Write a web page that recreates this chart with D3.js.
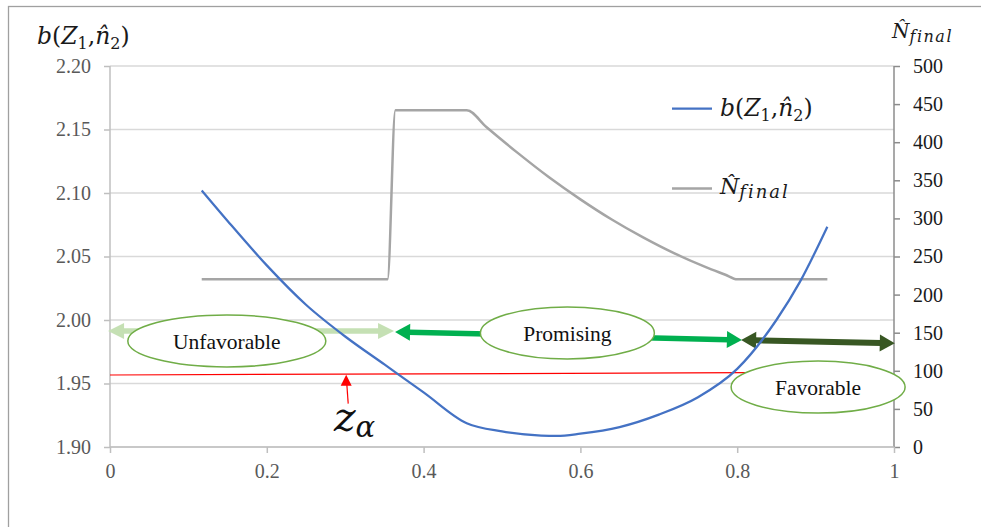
<!DOCTYPE html>
<html>
<head>
<meta charset="utf-8">
<script src="https://cdn.jsdelivr.net/npm/d3@7"></script>
<style>
  html, body { margin: 0; padding: 0; background: #fff; }
  svg { display: block; }
</style>
</head>
<body>
<svg id="chart" width="981" height="527"></svg>
<script>
// Interim z-statistic Z1 on the x axis
const zGrid = [0.117, 0.15, 0.20, 0.25, 0.30, 0.35, 0.40, 0.455, 0.50, 0.55, 0.57, 0.60, 0.65, 0.70, 0.75, 0.80, 0.85, 0.88, 0.915];
// Boundary b(Z1, n2) on the left axis
const bValues = [2.102, 2.078, 2.043, 2.012, 1.987, 1.965, 1.943, 1.9187, 1.9123, 1.9090, 1.9087, 1.9105, 1.9157, 1.9255, 1.9392, 1.9615, 2.000, 2.030, 2.0735];

// Re-estimated final sample size on the right axis
const nGrid = [0.117, 0.354, 0.364, 0.455, 0.48, 0.52, 0.56, 0.60, 0.64, 0.68, 0.72, 0.76, 0.785, 0.80, 0.915];
const nFinal = [220, 220, 442, 442, 420, 386, 354, 325, 298.5, 275, 254, 236, 226, 220, 220];

// Axis ticks
const leftTicks = [1.90, 1.95, 2.00, 2.05, 2.10, 2.15, 2.20];
const rightTicks = [0, 50, 100, 150, 200, 250, 300, 350, 400, 450, 500];
const xTicks = [0, 0.2, 0.4, 0.6, 0.8, 1];
const xTickLabels = ["0", "0.2", "0.4", "0.6", "0.8", "1"];

// Critical value line z_alpha (start and end)
const zAlphaX = [0, 0.8115];
const zAlphaY = [1.9567, 1.9585];

// Zone arrows: [x1, y1, x2, y2]
const zoneNames = ["Unfavorable", "Promising", "Favorable"];
const zoneArrows = [
  [-0.0025, 1.9913, 0.3623, 1.9913],
  [0.3636, 1.9906, 0.8060, 1.9843],
  [0.8050, 1.9843, 1.0010, 1.9817]
];
// Zone label centres [x, y]
const zoneLabels = [[0.149, 1.9835], [0.5834, 1.9898], [0.9032, 1.9472]];

const svg = d3.select("#chart");
const W = 981, H = 527;
const m = { left: 110, right: 894, top: 66, bottom: 447 };

const x = d3.scaleLinear().domain([0, 1]).range([m.left, m.right]);
const yL = d3.scaleLinear().domain([1.90, 2.20]).range([m.bottom, m.top]);
const yR = d3.scaleLinear().domain([0, 500]).range([m.bottom, m.top]);

const serif = "'Liberation Serif', 'Times New Roman', serif";
const mathFont = "'DejaVu Serif', serif";

// outer frame
svg.append("rect")
  .attr("x", 8.5).attr("y", 6.5)
  .attr("width", W + 20).attr("height", H + 20)
  .attr("fill", "none").attr("stroke", "#a0a0a0").attr("stroke-width", 1.3);

// horizontal gridlines
svg.append("g").selectAll("line").data(leftTicks).join("line")
  .attr("x1", m.left).attr("x2", m.right)
  .attr("y1", d => yL(d)).attr("y2", d => yL(d))
  .attr("stroke", "#d9d9d9").attr("stroke-width", 1.5);

// axes
const gLeft = svg.append("g").attr("transform", `translate(${m.left},0)`)
  .call(d3.axisLeft(yL).tickValues(leftTicks).tickFormat(d3.format(".2f")).tickSize(6).tickPadding(13));
const gRight = svg.append("g").attr("transform", `translate(${m.right},0)`)
  .call(d3.axisRight(yR).tickValues(rightTicks).tickSize(6).tickPadding(13));
const gBottom = svg.append("g").attr("transform", `translate(0,${m.bottom})`)
  .call(d3.axisBottom(x).tickValues(xTicks).tickFormat((d, i) => xTickLabels[i]).tickSize(6).tickPadding(11));

[gLeft, gRight, gBottom].forEach(g => g.attr("font-family", serif).attr("font-size", 20));
[gLeft, gBottom].forEach(g => {
  g.selectAll("path.domain").attr("stroke", "#bfbfbf").attr("stroke-width", 1.5);
  g.selectAll(".tick line").attr("stroke", "#bfbfbf").attr("stroke-width", 1.5);
  g.selectAll("text").attr("fill", "#595959");
});
gRight.selectAll("path.domain").attr("stroke", "#8c8c8c").attr("stroke-width", 1.5);
gRight.selectAll(".tick line").attr("stroke", "#8c8c8c").attr("stroke-width", 1.5);
gRight.selectAll("text").attr("fill", "#1a1a1a");
// plain axis lines without outer tick stubs
gLeft.select("path.domain").attr("d", `M0,${m.top}V${m.bottom}`);
gRight.select("path.domain").attr("d", `M0,${m.top}V${m.bottom}`);
gBottom.select("path.domain").attr("d", `M${m.left},0H${m.right}`);

// z_alpha critical line
svg.append("line")
  .attr("x1", x(zAlphaX[0])).attr("y1", yL(zAlphaY[0]))
  .attr("x2", x(zAlphaX[1])).attr("y2", yL(zAlphaY[1]))
  .attr("stroke", "#ff0000").attr("stroke-width", 1.2);

// arrows with heads at both ends
function arrow(g, a, color, width, headLen, headHalf) {
  const [x1, y1, x2, y2] = [x(a[0]), yL(a[1]), x(a[2]), yL(a[3])];
  const dx = x2 - x1, dy = y2 - y1, len = Math.hypot(dx, dy);
  const ux = dx / len, uy = dy / len, nx = -uy, ny = ux;
  g.append("line")
    .attr("x1", x1 + ux * headLen * 0.9).attr("y1", y1 + uy * headLen * 0.9)
    .attr("x2", x2 - ux * headLen * 0.9).attr("y2", y2 - uy * headLen * 0.9)
    .attr("stroke", color).attr("stroke-width", width);
  const head = (tx, ty, sx, sy) => {
    const bx = tx - sx * headLen, by = ty - sy * headLen;
    return [[tx, ty], [bx + nx * headHalf, by + ny * headHalf], [bx - nx * headHalf, by - ny * headHalf]];
  };
  g.append("polygon").attr("points", head(x2, y2, ux, uy).join(" ")).attr("fill", color);
  g.append("polygon").attr("points", head(x1, y1, -ux, -uy).join(" ")).attr("fill", color);
}
const gArrows = svg.append("g");
arrow(gArrows, zoneArrows[0], "#c5e0b4", 5.5, 16, 8);
arrow(gArrows, zoneArrows[1], "#00b050", 5.5, 15, 8.5);
arrow(gArrows, zoneArrows[2], "#385723", 6, 15, 8.5);

// zone ellipses and labels
const ellR = [[99, 26], [87, 26], [87, 26]];
const gZones = svg.append("g");
zoneLabels.forEach((c, i) => {
  gZones.append("ellipse")
    .attr("cx", x(c[0])).attr("cy", yL(c[1]))
    .attr("rx", ellR[i][0]).attr("ry", ellR[i][1])
    .attr("fill", "#ffffff").attr("stroke", "#70ad47").attr("stroke-width", 1.5);
  gZones.append("text")
    .attr("x", x(c[0])).attr("y", yL(c[1]) + 8)
    .attr("text-anchor", "middle")
    .attr("font-family", serif).attr("font-size", 21.5).attr("fill", "#111")
    .text(zoneNames[i]);
});

// series lines
const bLine = d3.line().x((d, i) => x(zGrid[i])).y(d => yL(d)).curve(d3.curveMonotoneX);
const nLine = d3.line().x((d, i) => x(nGrid[i])).y(d => yR(d)).curve(d3.curveMonotoneX);

svg.append("path").datum(nFinal).attr("d", nLine)
  .attr("fill", "none").attr("stroke", "#a5a5a5").attr("stroke-width", 2.5).attr("stroke-linejoin", "round");
svg.append("path").datum(bValues).attr("d", bLine)
  .attr("fill", "none").attr("stroke", "#4472c4").attr("stroke-width", 2.25).attr("stroke-linejoin", "round");

// z_alpha pointer and label
const zaX = 0.3, zaY = zAlphaY[0] + (zAlphaY[1] - zAlphaY[0]) * 0.3 / zAlphaX[1];
const tipX = x(zaX) + 1, tipY = yL(zaY) + 0.5;
svg.append("line").attr("x1", tipX + 2).attr("y1", tipY + 29).attr("x2", tipX + 0.5).attr("y2", tipY + 8)
  .attr("stroke", "#ff0000").attr("stroke-width", 1.2);
svg.append("polygon")
  .attr("points", [[tipX, tipY], [tipX - 5.5, tipY + 11], [tipX + 5.5, tipY + 11]].join(" "))
  .attr("fill", "#ff0000");
const za = svg.append("text").attr("x", 334).attr("y", 431)
  .attr("font-family", mathFont).attr("font-style", "italic").attr("fill", "#111");
za.append("tspan").attr("font-size", 41).text("z");
za.append("tspan").attr("font-size", 29).attr("dy", 6).text("α");

// math-style labels
function bLabel(g, px, py, size) {
  const t = g.append("text").attr("x", px).attr("y", py)
    .attr("font-family", mathFont).attr("font-size", size).attr("fill", "#1a1a1a");
  const sub = size * 0.68, drop = size * 0.22;
  t.append("tspan").attr("font-style", "italic").text("b");
  t.append("tspan").text("(");
  t.append("tspan").attr("font-style", "italic").text("Z");
  t.append("tspan").attr("font-size", sub).attr("dy", drop).text("1");
  t.append("tspan").attr("dy", -drop).text(",");
  t.append("tspan").attr("font-style", "italic").text("n\u0302");
  t.append("tspan").attr("font-size", sub).attr("dy", drop).text("2");
  t.append("tspan").attr("dy", -drop).text(")");
}
function nLabel(g, px, py, size, subSize, spacing) {
  const t = g.append("text").attr("x", px).attr("y", py)
    .attr("font-family", mathFont).attr("font-size", size).attr("fill", "#1a1a1a").attr("font-style", "italic");
  t.append("tspan").text("N\u0302");
  t.append("tspan").attr("font-size", subSize).attr("letter-spacing", spacing).attr("dy", size * 0.2).text("final");
}
const gLab = svg.append("g");
bLabel(gLab, 37, 44, 23.5);
nLabel(gLab, 892, 38, 20, 16, 1.5);

// legend
svg.append("line").attr("x1", 672).attr("x2", 712).attr("y1", 108.5).attr("y2", 108.5)
  .attr("stroke", "#4472c4").attr("stroke-width", 2.25);
svg.append("line").attr("x1", 672).attr("x2", 712).attr("y1", 188.5).attr("y2", 188.5)
  .attr("stroke", "#a5a5a5").attr("stroke-width", 2.5);
bLabel(gLab, 720, 116, 23.5);
nLabel(gLab, 720, 194, 22, 18, 2);
</script>
</body>
</html>
